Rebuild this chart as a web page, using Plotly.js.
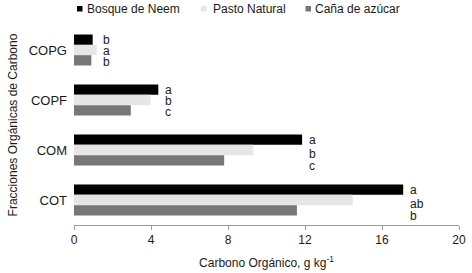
<!DOCTYPE html>
<html>
<head>
<meta charset="utf-8">
<script src="https://cdn.plot.ly/plotly-3.0.1.min.js"></script>
<style>html,body{margin:0;padding:0;background:#fff;}#chart{width:472px;height:273px;}</style>
</head>
<body>
<div id="chart"></div>
<script>
// ---- data ----
var categories = ['COPG', 'COPF', 'COM', 'COT'];
var seriesNames = ['Bosque de Neem', 'Pasto Natural', 'Caña de azúcar'];
var bosque = [0.97, 4.38, 11.85, 17.1];
var pasto  = [1.18, 3.98, 9.32, 14.48];
var cana   = [0.9, 2.95, 7.8, 11.58];
var lettersBosque = ['b', 'a', 'a', 'a'];
var lettersPasto  = ['a', 'b', 'b', 'ab'];
var lettersCana   = ['b', 'c', 'c', 'b'];
var xTickVals = [0, 4, 8, 12, 16, 20];

// ---- style ----
var colors = ['#000000', '#e6e6e6', '#777777'];
var FONT = 'Liberation Sans, Arial, sans-serif';
var W = 472, H = 273;
var M = {l: 74, r: 13, t: 25, b: 48};
var bargap = 0.38;
// extra downward shift (px) of significance letters, per category / series
var letterDown = [[0, 1, 1.5], [0, 0.8, 1.5], [0, 4.3, 5.4], [0, 4.3, 5.4]];

var seriesValues = [bosque, pasto, cana];
var seriesLetters = [lettersBosque, lettersPasto, lettersCana];

var traces = seriesValues.map(function (vals, i) {
  return {
    type: 'bar', orientation: 'h',
    name: seriesNames[i],
    x: vals, y: categories,
    marker: {color: colors[i], line: {width: 0}},
    showlegend: false, hoverinfo: 'x+y'
  };
});

var plotW = W - M.l - M.r, plotH = H - M.t - M.b;
function pxX(px) { return (px - M.l) / plotW; }
function pxY(py) { return (H - M.b - py) / plotH; }

var annotations = [];
var shapes = [];
var nSeries = seriesValues.length;
var barW = (1 - bargap) / nSeries;

categories.forEach(function (c, ci) {
  var maxVal = Math.max.apply(null, seriesValues.map(function (s) { return s[ci]; }));
  for (var si = 0; si < nSeries; si++) {
    annotations.push({
      xref: 'x', yref: 'y',
      x: maxVal, y: ci + (si - (nSeries - 1) / 2) * barW,
      xanchor: 'left', yanchor: 'middle',
      xshift: 4.5, yshift: -letterDown[ci][si],
      text: seriesLetters[si][ci], showarrow: false,
      font: {family: FONT, size: 12, color: '#1a1a1a'}
    });
  }
});

// custom legend (small squares hugging the text)
var legendSq = [77, 201, 305.5];
var legendTx = [85, 210.5, 312.5];
seriesNames.forEach(function (n, i) {
  shapes.push({
    type: 'rect', xref: 'paper', yref: 'paper',
    x0: pxX(legendSq[i]), x1: pxX(legendSq[i] + 5.5),
    y0: pxY(11.5), y1: pxY(6),
    fillcolor: colors[i], line: {width: 0}
  });
  annotations.push({
    xref: 'paper', yref: 'paper',
    x: pxX(legendTx[i]), y: pxY(9),
    xanchor: 'left', yanchor: 'middle', showarrow: false,
    text: n, font: {family: FONT, size: 12, color: '#1a1a1a'}
  });
});

var layout = {
  width: W, height: H,
  margin: M,
  paper_bgcolor: '#fff', plot_bgcolor: '#fff',
  barmode: 'group', bargap: bargap, bargroupgap: 0,
  showlegend: false,
  font: {family: FONT, size: 12, color: '#1a1a1a'},
  xaxis: {
    range: [0, 20], tickvals: xTickVals, ticktext: xTickVals.map(String),
    ticks: 'outside', ticklen: 4, tickcolor: '#9a9a9a', tickwidth: 1,
    showline: true, linecolor: '#9a9a9a', linewidth: 1,
    showgrid: false, zeroline: false,
    tickfont: {family: FONT, size: 12, color: '#1a1a1a'},
    title: {text: 'Carbono Orgánico, g kg<sup>-1</sup>', standoff: 12,
            font: {family: FONT, size: 12, color: '#1a1a1a'}},
    automargin: false, fixedrange: true
  },
  yaxis: {
    type: 'category', autorange: 'reversed',
    ticks: '', showline: false, showgrid: false, zeroline: false,
    tickfont: {family: FONT, size: 13, color: '#1a1a1a'},
    ticklabelstandoff: 6,
    title: {text: 'Fracciones Orgánicas de Carbono', standoff: 8,
            font: {family: FONT, size: 12, color: '#1a1a1a'}},
    automargin: false, fixedrange: true
  },
  annotations: annotations,
  shapes: shapes
};

Plotly.newPlot('chart', traces, layout, {staticPlot: true, displayModeBar: false});
</script>
</body>
</html>
